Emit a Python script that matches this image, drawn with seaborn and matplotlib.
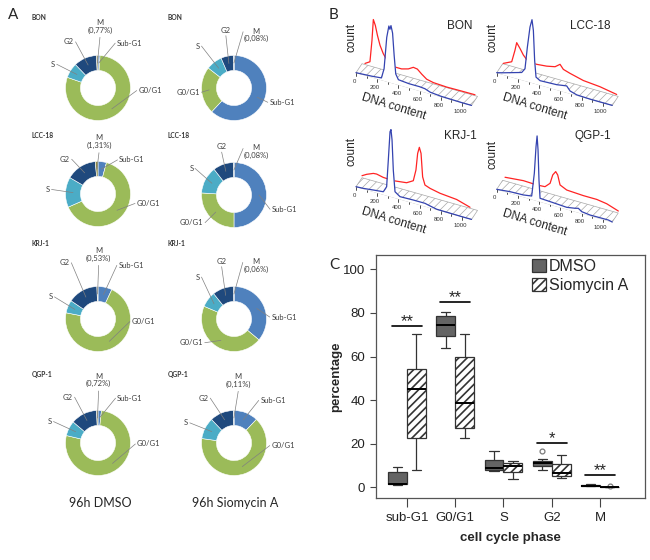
import numpy as np
import pandas as pd
import matplotlib
matplotlib.use("Agg")
import matplotlib.pyplot as plt
import seaborn as sns
from matplotlib.patches import Patch, Polygon
from matplotlib.transforms import Affine2D

# ---------------- A: cell cycle distribution (%), order Sub-G1, G0/G1, S, G2, M
phases = ["Sub-G1", "G0/G1", "S", "G2", "M"]
bon_dmso = [1.0, 79.3, 7.5, 11.4, 0.77]
bon_sio = [62.0, 23.5, 8.0, 6.4, 0.08]
lcc_dmso = [4.2, 64.2, 15.0, 15.3, 1.31]
lcc_sio = [50.0, 26.0, 13.5, 10.4, 0.08]
krj_dmso = [7.0, 71.0, 6.4, 15.0, 0.53]
krj_sio = [36.1, 45.3, 7.85, 10.7, 0.06]
qgp_dmso = [1.7, 77.0, 7.5, 13.1, 0.72]
qgp_sio = [12.1, 65.1, 10.7, 12.0, 0.11]
cell_lines = ["BON", "LCC-18", "KRJ-1", "QGP-1"]

# ---------------- B: DNA histograms as (channel, count); red = Siomycin A, blue = DMSO
bon_red = [(28, 1.1), (75, 4.2), (94, 26), (107, 47.4), (126, 42), (145, 33), (170, 23.5),
           (201, 16), (233, 11), (264, 7.2), (311, 6), (374, 6), (437, 7.9), (484, 10.9),
           (522, 10.3), (563, 6.5), (610, 2.8), (673, 1.3), (799, 0.6), (925, 0.8), (1066, 0.9)]
bon_blue = [(0, 0), (150, 1), (240, 2), (265, 12), (290, 44), (310, 56), (320, 53), (330, 57),
            (345, 50), (360, 28), (375, 10), (400, 5), (500, 4), (600, 4), (650, 3.5),
            (700, 1.5), (800, 0.5), (1000, 0), (1090, 0)]
lcc_red = [(6, 0.5), (85, 4.5), (116, 17), (132, 25), (164, 20), (195, 14.5), (226, 11),
           (274, 9.2), (321, 9), (415, 10), (494, 11.8), (541, 15.6), (572, 11.5), (635, 9.4),
           (761, 6), (918, 4.5), (1075, 1.5)]
lcc_blue = [(0, 0), (63, 1.8), (157, 4.8), (236, 7.3), (267, 12), (289, 34), (314, 55),
            (333, 63), (346, 52.6), (358, 23), (371, 6.7), (409, 4.3), (566, 5), (660, 6.6),
            (692, 2.5), (755, 0.5), (880, 0), (1090, 0)]
krj_red = [(0, 2), (44, 4.7), (107, 7.5), (138, 7.8), (201, 6.3), (296, 5.9), (421, 7.6),
           (484, 11.5), (509, 23), (525, 40), (541, 46.6), (557, 41), (572, 18), (594, 10.5),
           (642, 8.6), (736, 6.5), (893, 5), (1019, 1)]
krj_blue = [(0, 0), (69, 0.4), (164, 1.6), (258, 2.7), (289, 8.7), (305, 36), (321, 64.6),
            (330, 67), (340, 57), (352, 27), (368, 6), (415, 2.5), (541, 2.9), (651, 2.9),
            (682, 2.1), (761, 0.3), (1000, 0), (1090, 0)]
qgp_red = [(22, 3.7), (195, 5.5), (321, 5), (399, 5.6), (447, 10.4), (472, 19.5), (500, 23.7),
           (519, 20.9), (541, 11.6), (604, 8.4), (761, 7.5), (887, 7.5), (981, 6), (1091, 2)]
qgp_blue = [(0, 0), (126, 1.4), (252, 1.9), (330, 3.2), (355, 26.7), (371, 53.8), (381, 64.8),
            (390, 51), (399, 21), (409, 3.3), (503, 2.8), (660, 1.8), (739, 3.2), (770, 4.1),
            (802, 1.7), (880, 0.7), (1053, 0.9), (1090, 0)]
dna_ticks = [0, 200, 400, 600, 800, 1000]

# ---------------- C: percentage per phase
box_phases = ["sub-G1", "G0/G1", "S", "G2", "M"]
dmso_subg1 = [1.2, 1.4, 1.6, 7.0, 9.5]
sio_subg1 = [7.9, 22.5, 45.0, 54.1, 70.3]
dmso_g0g1 = [64.0, 69.4, 74.3, 78.6, 80.6]
sio_g0g1 = [22.5, 27.1, 38.8, 59.6, 70.2]
dmso_s = [7.6, 8.1, 9.0, 12.5, 16.6]
sio_s = [3.7, 6.9, 10.0, 11.3, 12.0]
dmso_g2 = [8.1, 9.5, 9.9, 10.5, 11.0, 11.5, 12.1, 13.0, 16.6]
sio_g2 = [4.1, 5.3, 6.7, 10.5, 14.7]
dmso_m = [0.53, 0.72, 0.77, 1.1, 1.31]
sio_m = [0.06, 0.08, 0.08, 0.11, 0.45]
sig_marks = ["**", "**", "", "*", "**"]
sig_level = [74.0, 84.9, 0.0, 20.2, 5.6]

rows = []
for ph, d, s in zip(box_phases,
                    [dmso_subg1, dmso_g0g1, dmso_s, dmso_g2, dmso_m],
                    [sio_subg1, sio_g0g1, sio_s, sio_g2, sio_m]):
    rows += [(ph, "DMSO", v) for v in d] + [(ph, "Siomycin A", v) for v in s]
df = pd.DataFrame(rows, columns=["phase", "treat", "pct"])

sns.set_style("white")
plt.rcParams["font.family"] = ["Liberation Sans", "DejaVu Sans"]
LATO = ["Lato", "DejaVu Sans"]

W, H = 650, 560
fig = plt.figure(figsize=(6.5, 5.6), dpi=100)


def frac(x, y, w, h):
    return [x / W, 1 - (y + h) / H, w / W, h / H]


# overlay in pixel units (y down) for panel B and loose text
axo = fig.add_axes([0, 0, 1, 1])
axo.set_autoscale_on(False)
axo.set_xlim(0, W)
axo.set_ylim(H, 0)
axo.axis("off")

# ---------------- panel A
donut_colors = ["#4f81bd", "#9bbb59", "#4bacc6", "#1f497d", "#8c8a48"]

lab_bon_dmso = {"Sub-G1": (0.58, 1.38, "left"), "G0/G1": (1.24, -0.08, "left"),
                "S": (-1.32, 0.73, "right"), "G2": (-0.74, 1.42, "right"), "M": (0.06, 1.9, "center")}
lab_bon_sio = {"Sub-G1": (1.09, -0.44, "left"), "G0/G1": (-1.05, -0.13, "right"),
               "S": (-1.05, 1.29, "right"), "G2": (-0.25, 1.78, "center"), "M": (0.68, 1.63, "side")}
lab_lcc_dmso = {"Sub-G1": (0.65, 1.05, "left"), "G0/G1": (1.19, -0.29, "left"),
                "S": (-1.48, 0.14, "right"), "G2": (-0.86, 1.07, "right"), "M": (0.03, 1.61, "center")}
lab_lcc_sio = {"Sub-G1": (1.16, -0.44, "left"), "G0/G1": (-0.94, -0.85, "right"),
               "S": (-1.25, 0.82, "right"), "G2": (-0.38, 1.49, "center"), "M": (0.68, 1.33, "side")}
lab_krj_dmso = {"Sub-G1": (0.63, 1.65, "left"), "G0/G1": (1.03, -0.08, "left"),
                "S": (-1.39, 0.68, "right"), "G2": (-0.87, 1.73, "right"), "M": (0.02, 1.99, "center")}
lab_krj_sio = {"Sub-G1": (1.15, 0.06, "left"), "G0/G1": (-0.95, -0.73, "right"),
               "S": (-1.05, 1.29, "right"), "G2": (-0.38, 1.78, "center"), "M": (0.67, 1.64, "side")}
lab_qgp_dmso = {"Sub-G1": (0.59, 1.38, "left"), "G0/G1": (1.2, -0.03, "left"),
                "S": (-1.42, 0.66, "right"), "G2": (-0.77, 1.41, "right"), "M": (0.02, 1.94, "center")}
lab_qgp_sio = {"Sub-G1": (0.81, 1.31, "left"), "G0/G1": (1.15, -0.08, "left"),
               "S": (-1.41, 0.62, "right"), "G2": (-0.78, 1.38, "right"), "M": (0.13, 1.93, "center")}


def donut(vals, cx, cy, labels):
    ax = fig.add_axes(frac(cx - 65, cy - 65, 130, 130))
    ax.pie(vals, colors=donut_colors, startangle=90, counterclock=False, radius=1,
           wedgeprops=dict(width=0.46, edgecolor="white", linewidth=0.4))
    ax.set_xlim(-2, 2)
    ax.set_ylim(-2, 2)
    ax.set_aspect("equal")
    ax.axis("off")
    tot = sum(vals)
    cum = np.cumsum([0] + list(vals))[:-1]
    for i, ph in enumerate(phases):
        tx, ty, mode = labels[ph]
        mid = np.deg2rad(90 - (cum[i] + vals[i] / 2) / tot * 360)
        ex, ey = 0.77 * np.cos(mid), 0.77 * np.sin(mid)
        text = ph if ph != "M" else ("M\n(%.2f%%)" % vals[i]).replace(".", ",")
        ha = mode if mode in ("left", "right") else "center"
        if mode == "left":
            sx, sy = tx - 0.05, ty
        elif mode == "right":
            sx, sy = tx + 0.05, ty
        elif mode == "side":
            sx, sy = tx - 0.4, ty + 0.1
        else:
            sx, sy = tx, ty - (0.34 if ph == "M" else 0.17)
        ax.plot([sx, ex], [sy, ey], color="#808080", lw=0.5, zorder=5, clip_on=False)
        ax.text(tx, ty, text, ha=ha, va="center", fontsize=5.5, color="#404040",
                family=LATO, linespacing=1.1)


donut(bon_dmso, 98, 88, lab_bon_dmso)
donut(bon_sio, 234, 88, lab_bon_sio)
donut(lcc_dmso, 98, 194, lab_lcc_dmso)
donut(lcc_sio, 234, 195, lab_lcc_sio)
donut(krj_dmso, 98, 319, lab_krj_dmso)
donut(krj_sio, 234, 319, lab_krj_sio)
donut(qgp_dmso, 98, 443, lab_qgp_dmso)
donut(qgp_sio, 234, 443, lab_qgp_sio)

for cl, ly in zip(cell_lines, [18, 135, 243, 375]):
    axo.text(32, ly, cl, fontsize=4.8, fontweight="bold", family=LATO, va="center", color="#333333")
    axo.text(168, ly, cl, fontsize=4.8, fontweight="bold", family=LATO, va="center", color="#333333")
axo.text(100, 503, "96h DMSO", ha="center", va="center", fontsize=9, family=LATO)
axo.text(235, 503, "96h Siomycin A", ha="center", va="center", fontsize=9, family=LATO)

# ---------------- panel B
DX, DY = 0.106, 0.030   # pixels per channel along the front edge
BX, BY = 6, -9          # offset of the back row
END = 1090


def hist_panel(ox, oy, title, tpos, red, blue):
    def tr(depth):
        return Affine2D.from_values(DX, DY, 0, -1, ox + BX * depth, oy + BY * depth) + axo.transData

    def pt(d, depth=0):
        return ox + DX * d + BX * depth, oy + DY * d + BY * depth

    with plt.rc_context({"hatch.linewidth": 0.5}):
        band = Polygon([pt(0), pt(END), pt(END, 1), pt(0, 1)], closed=True, facecolor="white",
                       edgecolor="#a8a8a8", hatch="////", lw=0.5, zorder=1)
    axo.add_patch(band)
    rd, rh = np.array(red, dtype=float).T
    axo.plot(rd, rh, color="#ff2424", lw=0.9, transform=tr(1), zorder=3)
    bd, bh = np.array(blue, dtype=float).T
    axo.fill_between(bd, 0, bh, color="white", lw=0, transform=tr(0), zorder=4)
    axo.plot(bd, bh, color="#3443b0", lw=0.9, transform=tr(0), zorder=5)
    for d in range(0, 1001, 100):
        x, y = pt(d)
        axo.plot([x, x], [y, y + (3 if d % 200 == 0 else 2)], color="#333333", lw=0.6, zorder=2)
    for d in dna_ticks:
        x, y = pt(d)
        axo.text(x - 2, y + 8.5, str(d), fontsize=4.3, ha="center", va="center", color="#333333")
    axo.text(ox - 4.5, oy - 35, "count", rotation=90, fontsize=8.5, ha="center", va="center")
    axo.text(ox + 38, oy + 34, "DNA content", rotation=-17, fontsize=8.5, ha="center",
             va="center", rotation_mode="anchor")
    axo.text(tpos[0], tpos[1], title, fontsize=8.5, ha="center", va="center")


hist_panel(356, 72.7, "BON", (460, 26), bon_red, bon_blue)
hist_panel(496.7, 72.7, "LCC-18", (590, 26), lcc_red, lcc_blue)
hist_panel(356, 186.7, "KRJ-1", (460, 136), krj_red, krj_blue)
hist_panel(496.7, 189.3, "QGP-1", (593, 136), qgp_red, qgp_blue)

# ---------------- panel C
plt.rcParams["hatch.linewidth"] = 1.2
axc = fig.add_axes(frac(376, 255, 269, 243))
sns.boxplot(data=df, x="phase", y="pct", hue="treat", order=box_phases,
            hue_order=["DMSO", "Siomycin A"],
            palette={"DMSO": "#646464", "Siomycin A": "white"}, saturation=1,
            width=0.78, gap=0, linewidth=0.9, linecolor="#333333",
            flierprops=dict(marker="o", markersize=3.5, markerfacecolor="white",
                            markeredgecolor="#7a7a7a", markeredgewidth=0.9),
            medianprops=dict(color="black", linewidth=1.4),
            legend=False, ax=axc)
for p in axc.patches:
    if np.allclose(p.get_facecolor()[:3], 1):
        p.set_hatch("////")

for i, (m, h) in enumerate(zip(sig_marks, sig_level)):
    if m:
        axc.plot([i - 0.31, i + 0.31], [h, h], color="black", lw=1.2)
        axc.text(i, h, m, ha="center", va="baseline", fontsize=12)

axc.set_xlim(-0.64, 4.93)
axc.set_ylim(-4.9, 106.6)
axc.set_yticks(range(0, 101, 20))
axc.tick_params(axis="x", direction="out", length=6.3, width=0.8, colors="#444444",
                labelsize=9.5, labelcolor="#222222", pad=3.6, bottom=True)
axc.tick_params(axis="y", direction="out", length=4.3, width=0.8, colors="#444444",
                labelsize=9.5, labelcolor="#222222", pad=3.6, left=True)
for s in axc.spines.values():
    s.set_visible(True)
    s.set_color("#555555")
    s.set_linewidth(0.9)
axc.set_xlabel("cell cycle phase", fontsize=9.5, fontweight="bold")
axc.set_ylabel("percentage", fontsize=9.5, fontweight="bold")
axc.xaxis.set_label_coords(0.5, -0.14)
axc.yaxis.set_label_coords(-0.124, 0.5)

handles = [Patch(facecolor="#646464", edgecolor="#333333", lw=0.9),
           Patch(facecolor="white", edgecolor="#333333", hatch="////", lw=0.9)]
axc.legend(handles, ["DMSO", "Siomycin A"], loc="upper left", bbox_to_anchor=(0.579, 0.985),
           frameon=False, fontsize=11.5, handlelength=0.9, handleheight=0.9,
           handletextpad=0.15, labelspacing=0.25, borderpad=0, borderaxespad=0)

# panel letters
axo.text(13, 15, "A", fontsize=11, ha="center", va="center", family=LATO)
axo.text(334, 15, "B", fontsize=11, ha="center", va="center", family=LATO)
axo.text(334, 265, "C", fontsize=11, ha="center", va="center", family=LATO)

fig.savefig("out.png", dpi=100)
